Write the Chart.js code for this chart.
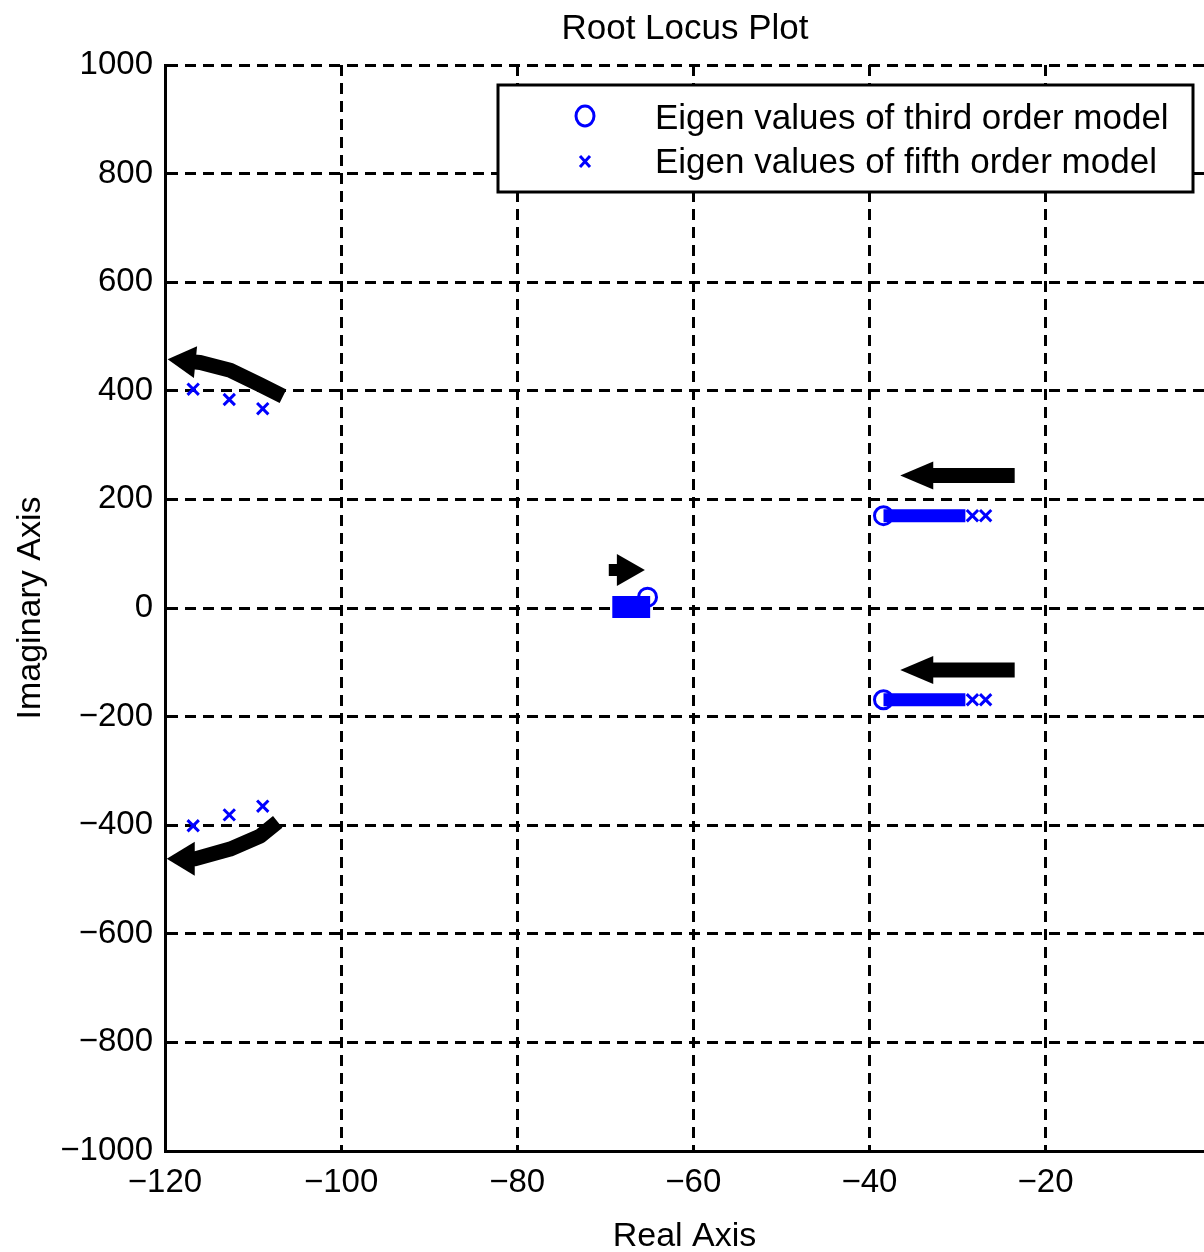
<!DOCTYPE html>
<html><head><meta charset="utf-8">
<script src="https://cdn.jsdelivr.net/npm/chart.js@4.4.1/dist/chart.umd.min.js"></script>
<style>html,body{margin:0;padding:0;background:#fff}#wrap{width:1204px;height:1252px}</style>
</head><body><div id="wrap"><canvas id="c" width="1204" height="1252"></canvas></div>
<script>
// ---- text ----
const chartTitle = 'Root Locus Plot';
const xTitle = 'Real Axis';
const yTitle = 'Imaginary Axis';
const thirdOrderLabel = 'Eigen values of third order model';
const fifthOrderLabel = 'Eigen values of fifth order model';

// ---- axes ----
const xRange = [-120, -2];
const yRange = [-1000, 1000];
const xTicks = [-120, -100, -80, -60, -40, -20];
const yTicks = [-1000, -800, -600, -400, -200, 0, 200, 400, 600, 800, 1000];

// ---- data ----
const thirdOrderEig = [
  {x: -38.4, y: 170}, {x: -38.4, y: -169}, {x: -65.2, y: 20}
];
const fifthOrderEig = [
  {x: -116.8, y: 403}, {x: -112.7, y: 384}, {x: -108.9, y: 367},
  {x: -116.8, y: -401}, {x: -112.7, y: -381}, {x: -108.9, y: -365},
  {x: -28.3, y: 170}, {x: -26.8, y: 170},
  {x: -28.3, y: -169}, {x: -26.8, y: -169}
];
const locusUpper = [{x: -38.4, y: 170}, {x: -29.1, y: 170}];
const locusLower = [{x: -38.4, y: -169}, {x: -29.1, y: -169}];
const locusMiddle = [{x: -69.2, y: 2}, {x: -64.9, y: 2}];

// ---- direction arrows (data coordinates, last point = tip) ----
const arrowUpperLeft = [
  {x: -106.6, y: 390}, {x: -109.2, y: 411}, {x: -112.6, y: 438}, {x: -116.0, y: 452}, {x: -119.7, y: 458}
];
const arrowLowerLeft = [
  {x: -107.2, y: -394}, {x: -109.2, y: -420}, {x: -112.6, y: -444}, {x: -116.6, y: -462}, {x: -119.8, y: -462}
];
const arrowUpperRight = [{x: -23.5, y: 244}, {x: -36.5, y: 244}];
const arrowLowerRight = [{x: -23.5, y: -114}, {x: -36.5, y: -114}];
const arrowMiddle = [{x: -69.6, y: 70}, {x: -65.5, y: 70}];

const BLUE = '#0000ff';
const FONT = "'Liberation Sans', Arial, sans-serif";

function fmt(v) { return v < 0 ? '\u2212' + Math.abs(v) : String(v); }

const arrowPlugin = {
  id: 'arrows',
  afterDatasetsDraw(chart) {
    const ctx = chart.ctx, xs = chart.scales.x, ys = chart.scales.y;
    const list = [
      [arrowUpperLeft, 15, 28, 16],
      [arrowLowerLeft, 15, 28, 17],
      [arrowUpperRight, 15, 33, 14],
      [arrowLowerRight, 15, 33, 14],
      [arrowMiddle, 12, 28, 16]
    ];
    ctx.save();
    ctx.fillStyle = '#000'; ctx.strokeStyle = '#000';
    for (const [pts, w, hl, hw] of list) {
      const p = pts.map(q => [xs.getPixelForValue(q.x), ys.getPixelForValue(q.y)]);
      const n = p.length, tip = p[n - 1], prev = p[n - 2];
      const a = Math.atan2(tip[1] - prev[1], tip[0] - prev[0]);
      const base = [tip[0] - hl * Math.cos(a), tip[1] - hl * Math.sin(a)];
      ctx.lineWidth = w; ctx.lineCap = 'butt'; ctx.lineJoin = 'round';
      ctx.beginPath();
      ctx.moveTo(p[0][0], p[0][1]);
      for (let i = 1; i < n - 1; i++) ctx.lineTo(p[i][0], p[i][1]);
      ctx.lineTo(base[0] + 2 * Math.cos(a), base[1] + 2 * Math.sin(a));
      ctx.stroke();
      const px = -Math.sin(a), py = Math.cos(a);
      ctx.beginPath();
      ctx.moveTo(tip[0], tip[1]);
      ctx.lineTo(base[0] + px * hw, base[1] + py * hw);
      ctx.lineTo(base[0] - px * hw, base[1] - py * hw);
      ctx.closePath(); ctx.fill();
    }
    ctx.restore();
  },
  afterDraw(chart) {
    const ctx = chart.ctx;
    ctx.save();
    // title
    ctx.fillStyle = '#000';
    ctx.font = '35px ' + FONT;
    ctx.textAlign = 'center'; ctx.textBaseline = 'middle';
    ctx.fillText(chartTitle, 685, 29);
    // legend
    const bx = 498, by = 85, bw = 695, bh = 107;
    ctx.fillStyle = '#fff';
    ctx.fillRect(bx, by, bw, bh);
    ctx.lineWidth = 3; ctx.strokeStyle = '#000';
    ctx.strokeRect(bx, by, bw, bh);
    // circle symbol
    ctx.strokeStyle = BLUE; ctx.lineWidth = 3;
    ctx.beginPath(); ctx.ellipse(585, 116, 9, 10, 0, 0, Math.PI * 2); ctx.stroke();
    // x symbol
    ctx.beginPath();
    ctx.moveTo(580, 156); ctx.lineTo(590, 167);
    ctx.moveTo(590, 156); ctx.lineTo(580, 167);
    ctx.stroke();
    ctx.fillStyle = '#000';
    ctx.font = '35px ' + FONT;
    ctx.textAlign = 'left'; ctx.textBaseline = 'middle';
    ctx.fillText(thirdOrderLabel, 655, 119);
    ctx.fillText(fifthOrderLabel, 655, 163);
    ctx.restore();
  }
};

const gridCommon = {
  color: '#000', lineWidth: 3, drawTicks: false
};

new Chart(document.getElementById('c'), {
  type: 'scatter',
  data: {
    datasets: [
      { label: thirdOrderLabel, data: thirdOrderEig, pointStyle: 'circle', pointRadius: 9,
        borderColor: BLUE, backgroundColor: 'rgba(0,0,0,0)', pointBorderWidth: 3, order: 0 },
      { label: fifthOrderLabel, data: fifthOrderEig, pointStyle: 'crossRot', pointRadius: 8,
        borderColor: BLUE, pointBorderWidth: 3, order: 1 },
      { label: 'locus upper', data: locusUpper, showLine: true, pointRadius: 0, borderColor: BLUE,
        borderWidth: 13, borderCapStyle: 'butt', order: 2 },
      { label: 'locus lower', data: locusLower, showLine: true, pointRadius: 0, borderColor: BLUE,
        borderWidth: 13, borderCapStyle: 'butt', order: 2 },
      { label: 'locus middle', data: locusMiddle, showLine: true, pointRadius: 0, borderColor: BLUE,
        borderWidth: 22, borderCapStyle: 'butt', order: 2 }
    ]
  },
  options: {
    responsive: false,
    animation: false,
    devicePixelRatio: 1,
    layout: { autoPadding: false, padding: { top: 65, right: 0, left: 0, bottom: 0 } },
    plugins: { legend: { display: false }, title: { display: false }, tooltip: { enabled: false } },
    scales: {
      x: {
        type: 'linear', min: xRange[0], max: xRange[1],
        afterBuildTicks(s) { s.ticks = xTicks.map(v => ({ value: v })); },
        afterFit(s) { s.height = 101; },
        grid: Object.assign({}, gridCommon),
        border: { display: true, color: '#000', width: 3, dash: [11, 7] },
        ticks: { color: '#000', font: { family: FONT, size: 33 }, padding: 12, maxRotation: 0,
                 callback: v => fmt(v) },
        title: { display: true, text: xTitle, color: '#000', font: { family: FONT, size: 34 },
                 padding: { top: 0, bottom: -5 } }
      },
      y: {
        type: 'linear', min: yRange[0], max: yRange[1],
        afterBuildTicks(s) { s.ticks = yTicks.map(v => ({ value: v })); },
        afterFit(s) { s.width = 165; },
        grid: Object.assign({}, gridCommon),
        border: { display: true, color: '#000', width: 3, dash: [11, 7] },
        ticks: { color: '#000', font: { family: FONT, size: 33 }, padding: 12,
                 callback: v => fmt(v) },
        title: { display: true, text: yTitle, color: '#000', font: { family: FONT, size: 34 },
                 padding: { top: 10, bottom: 0 } }
      }
    }
  },
  plugins: [arrowPlugin]
});
</script>
</body></html>
